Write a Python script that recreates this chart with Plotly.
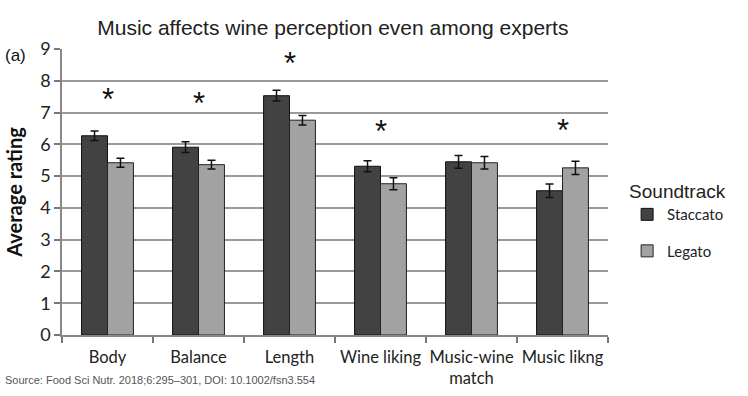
import plotly.graph_objects as go

categories = ["Body", "Balance", "Length", "Wine liking", "Music-wine<br>match", "Music likng"]
staccato = [6.27, 5.91, 7.53, 5.31, 5.45, 4.54]
staccato_err = [0.15, 0.17, 0.17, 0.17, 0.20, 0.21]
legato = [5.42, 5.36, 6.76, 4.76, 5.42, 5.26]
legato_err = [0.14, 0.14, 0.15, 0.19, 0.20, 0.21]
star_cats = ["Body", "Balance", "Length", "Wine liking", "Music likng"]
star_y = [7.4, 7.29, 8.55, 6.4, 6.43]

fig = go.Figure()
fig.add_trace(go.Bar(
    name="Staccato", x=categories, y=staccato,
    marker=dict(color="#424242", line=dict(color="#111111", width=1)),
    error_y=dict(type="data", array=staccato_err, color="#111111", thickness=1.5, width=4),
    legendgroup="s",
))
fig.add_trace(go.Bar(
    name="Legato", x=categories, y=legato,
    marker=dict(color="#a2a2a2", line=dict(color="#222222", width=1)),
    error_y=dict(type="data", array=legato_err, color="#111111", thickness=1.5, width=4),
    legendgroup="l",
))

for c, yv in zip(star_cats, star_y):
    fig.add_annotation(x=c, y=yv, text="*", showarrow=False, xref="x", yref="y",
                       font=dict(family="Liberation Sans, Arial", size=31, color="#111111"),
                       yanchor="middle")

fig.add_annotation(x=-0.108, y=0.979, xref="paper", yref="paper", text="(a)", showarrow=False,
                   xanchor="left", yanchor="middle",
                   font=dict(family="Liberation Sans, Arial", size=17, color="#111111"))
fig.add_annotation(x=-0.108, y=-0.157, xref="paper", yref="paper", text="Source: Food Sci Nutr. 2018;6:295–301, DOI: 10.1002/fsn3.554",
                   showarrow=False, xanchor="left", yanchor="middle",
                   font=dict(family="Liberation Sans, Arial", size=11, color="#555555"))

fig.update_layout(
    width=748, height=396,
    margin=dict(l=62, r=140, t=49, b=61, autoexpand=False),
    paper_bgcolor="white", plot_bgcolor="white",
    barmode="group", bargap=0.43, bargroupgap=0,
    title=dict(text="Music affects wine perception even among experts", x=0.445, xanchor="center",
               y=0.93, yanchor="middle",
               font=dict(family="Liberation Sans, Arial", size=21, color="#222222")),
    showlegend=True,
    legend=dict(x=1.035, y=0.565, xanchor="left", yanchor="top",
                title=dict(text="Soundtrack", font=dict(family="Liberation Sans, Arial", size=19, color="#222222")),
                font=dict(family="Lato, Noto Sans", size=15, color="#222222"),
                tracegroupgap=14, itemwidth=30, bgcolor="rgba(0,0,0,0)"),
    xaxis=dict(tickson="boundaries", ticks="outside", ticklen=6, tickcolor="#777777", tickwidth=1.5,
               tickangle=0, automargin=False, ticklabelstandoff=6,
               showline=True, linecolor="#888888", linewidth=1.5,
               tickfont=dict(family="Lato, Noto Sans", size=16.5, color="#222222")),
    yaxis=dict(range=[0, 9], dtick=1, ticks="outside", ticklen=6, tickcolor="#777777", tickwidth=1.5,
               showline=True, linecolor="#888888", linewidth=1.5, automargin=False,
               showgrid=True, gridcolor="#9a9a9a", gridwidth=1.5, zeroline=False,
               tickfont=dict(family="Lato, Noto Sans", size=18, color="#222222"),
               title=dict(text="<b>Average rating</b>", standoff=12,
                          font=dict(family="Lato, Noto Sans", size=20, color="#111111"))),
)

fig.write_html("out.html")
